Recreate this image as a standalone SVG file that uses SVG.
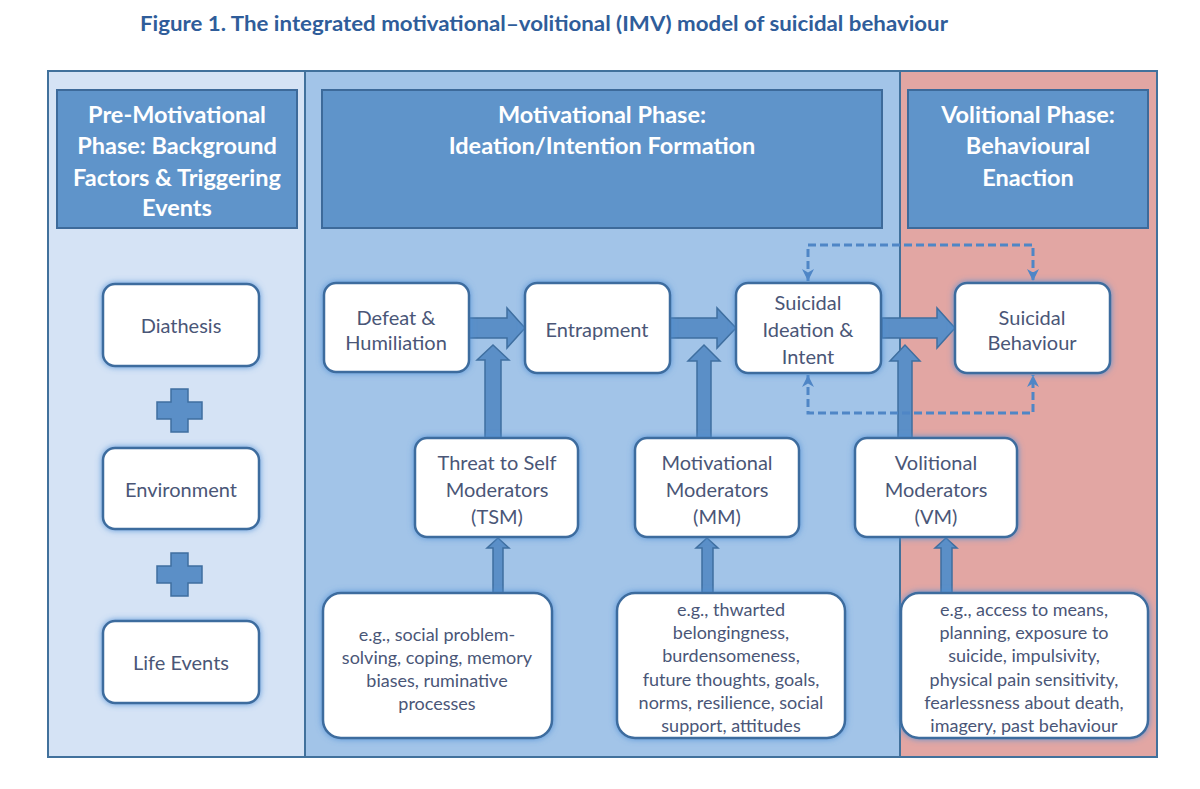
<svg xmlns="http://www.w3.org/2000/svg" width="1200" height="789" viewBox="0 0 1200 789">
<defs>
<style>
.title{font-family:Lato,"Liberation Sans",sans-serif;font-weight:bold;font-size:20px;fill:#2f5d9a}
.hdr{fill:#5f94ca;stroke:#3d6a9a;stroke-width:2}
.ht{font-family:Lato,"Liberation Sans",sans-serif;font-weight:bold;font-size:23.5px;fill:#ffffff;text-anchor:middle}
.node{fill:#ffffff;stroke:#3e6c9e;stroke-width:2.5;filter:url(#glow)}
.nt{font-family:Lato,"Liberation Sans",sans-serif;font-size:20px;fill:#4a5677;text-anchor:middle}
.st{font-family:Lato,"Liberation Sans",sans-serif;font-size:18px;fill:#4a5677;text-anchor:middle}
.big{fill:#5b8fc7;stroke:#3f6fa0;stroke-width:1.5;stroke-linejoin:miter}
.dash{fill:none;stroke:#4f86c6;stroke-width:3;stroke-dasharray:8 4}
</style>
<filter id="glow" x="-20%" y="-20%" width="140%" height="140%">
<feDropShadow dx="0" dy="0" stdDeviation="3" flood-color="#4f8fd6" flood-opacity="0.9"/>
</filter>
<marker id="ah" viewBox="0 0 10 10" refX="10" refY="5" markerWidth="4" markerHeight="4" orient="auto-start-reverse" markerUnits="strokeWidth">
<path d="M0,0 L10,5 L0,10 L3,5 Z" fill="#4f86c6"/>
</marker>
</defs>
<rect width="1200" height="789" fill="#ffffff"/>
<text class="title" x="140" y="31" textLength="808" lengthAdjust="spacingAndGlyphs">Figure 1. The integrated motivational–volitional (IMV) model of suicidal behaviour</text>

<g id="panels">
<rect x="48" y="71" width="257" height="686" fill="#d5e3f5"/>
<rect x="305" y="71" width="595" height="686" fill="#a2c4e8"/>
<rect x="900" y="71" width="257" height="686" fill="#e2a6a3"/>
<rect x="48" y="71" width="1109" height="686" fill="none" stroke="#41719c" stroke-width="2"/>
<line x1="305" y1="71" x2="305" y2="757" stroke="#41719c" stroke-width="2"/>
<line x1="900" y1="71" x2="900" y2="757" stroke="#41719c" stroke-width="2"/>
</g>

<g id="hdr-pre">
<rect class="hdr" x="57" y="90" width="240" height="138"/>
<text class="ht" x="177" y="123">Pre-Motivational</text>
<text class="ht" x="177" y="154">Phase: Background</text>
<text class="ht" x="177" y="186">Factors &amp; Triggering</text>
<text class="ht" x="177" y="216">Events</text>
</g>
<g id="hdr-mot">
<rect class="hdr" x="322" y="90" width="560" height="138"/>
<text class="ht" x="602" y="123">Motivational Phase:</text>
<text class="ht" x="602" y="154">Ideation/Intention Formation</text>
</g>
<g id="hdr-vol">
<rect class="hdr" x="908" y="90" width="240" height="138"/>
<text class="ht" x="1028" y="123">Volitional Phase:</text>
<text class="ht" x="1028" y="154">Behavioural</text>
<text class="ht" x="1028" y="186">Enaction</text>
</g>

<g id="connectors">
<polygon class="big" points="469,318 507,318 507,308 525,328 507,348 507,338 469,338"/>
<polygon class="big" points="670,318 717,318 717,308 736,328 717,348 717,338 670,338"/>
<polygon class="big" points="882,318 937,318 937,308 955,328 937,348 937,338 882,338"/>
<polygon class="big" points="485,438 485,360 477,360 493,345 509,360 501,360 501,438"/>
<polygon class="big" points="697,438 697,361 688,361 704,345 720,361 711,361 711,438"/>
<polygon class="big" points="898,438 898,361 890,361 905,345 920,361 912,361 912,438"/>
<polygon class="big" points="493,593 493,548 487,548 498,538 509,548 503,548 503,593"/>
<polygon class="big" points="702,593 702,548 696,548 707,538 718,548 713,548 713,593"/>
<polygon class="big" points="941,593 941,548 935,548 946,538 957,548 952,548 952,593"/>
<path class="dash" d="M808,281 V245 H1033 V281" marker-start="url(#ah)" marker-end="url(#ah)"/>
<path class="dash" d="M808,375 V413 H1033 V375" marker-start="url(#ah)" marker-end="url(#ah)"/>
<g class="big">
<path d="M171,389 h17 v13 h14 v17 h-14 v13 h-17 v-13 h-14 v-17 h14 z"/>
<path d="M171,553 h17 v13 h14 v17 h-14 v13 h-17 v-13 h-14 v-17 h14 z"/>
</g>
</g>

<g id="diathesis">
<rect class="node" x="103" y="284" width="156" height="82" rx="12"/>
<text class="nt" x="181" y="333">Diathesis</text>
</g>
<g id="environment">
<rect class="node" x="103" y="448" width="156" height="81" rx="12"/>
<text class="nt" x="181" y="497">Environment</text>
</g>
<g id="life-events">
<rect class="node" x="103" y="621" width="156" height="82" rx="12"/>
<text class="nt" x="181" y="670">Life Events</text>
</g>

<g id="defeat">
<rect class="node" x="324" y="283" width="145" height="89" rx="12"/>
<text class="nt" x="396" y="325">Defeat &amp;</text>
<text class="nt" x="396" y="350">Humiliation</text>
</g>
<g id="entrapment">
<rect class="node" x="525" y="283" width="145" height="90" rx="12"/>
<text class="nt" x="597" y="337">Entrapment</text>
</g>
<g id="ideation">
<rect class="node" x="736" y="283" width="145" height="90" rx="12"/>
<text class="nt" x="808" y="310">Suicidal</text>
<text class="nt" x="808" y="337">Ideation &amp;</text>
<text class="nt" x="808" y="364">Intent</text>
</g>
<g id="behaviour">
<rect class="node" x="955" y="283" width="155" height="90" rx="12"/>
<text class="nt" x="1032" y="325">Suicidal</text>
<text class="nt" x="1032" y="350">Behaviour</text>
</g>

<g id="tsm">
<rect class="node" x="415" y="438" width="163" height="99" rx="12"/>
<text class="nt" x="497" y="470">Threat to Self</text>
<text class="nt" x="497" y="497">Moderators</text>
<text class="nt" x="497" y="524">(TSM)</text>
</g>
<g id="mm">
<rect class="node" x="635" y="438" width="164" height="99" rx="12"/>
<text class="nt" x="717" y="470">Motivational</text>
<text class="nt" x="717" y="497">Moderators</text>
<text class="nt" x="717" y="524">(MM)</text>
</g>
<g id="vm">
<rect class="node" x="855" y="438" width="162" height="99" rx="12"/>
<text class="nt" x="936" y="470">Volitional</text>
<text class="nt" x="936" y="497">Moderators</text>
<text class="nt" x="936" y="524">(VM)</text>
</g>

<g id="tsm-eg">
<rect class="node" x="323" y="593" width="229" height="145" rx="18"/>
<text class="st" x="437" y="641">e.g., social problem-</text>
<text class="st" x="437" y="664">solving, coping, memory</text>
<text class="st" x="437" y="687">biases, ruminative</text>
<text class="st" x="437" y="710">processes</text>
</g>
<g id="mm-eg">
<rect class="node" x="617" y="593" width="228" height="145" rx="18"/>
<text class="st" x="731" y="616">e.g., thwarted</text>
<text class="st" x="731" y="639">belongingness,</text>
<text class="st" x="731" y="662">burdensomeness,</text>
<text class="st" x="731" y="686">future thoughts, goals,</text>
<text class="st" x="731" y="709">norms, resilience, social</text>
<text class="st" x="731" y="732">support, attitudes</text>
</g>
<g id="vm-eg">
<rect class="node" x="901" y="593" width="247" height="145" rx="18"/>
<text class="st" x="1024" y="616">e.g., access to means,</text>
<text class="st" x="1024" y="639">planning, exposure to</text>
<text class="st" x="1024" y="662">suicide, impulsivity,</text>
<text class="st" x="1024" y="686">physical pain sensitivity,</text>
<text class="st" x="1024" y="709">fearlessness about death,</text>
<text class="st" x="1024" y="732">imagery, past behaviour</text>
</g>
</svg>
